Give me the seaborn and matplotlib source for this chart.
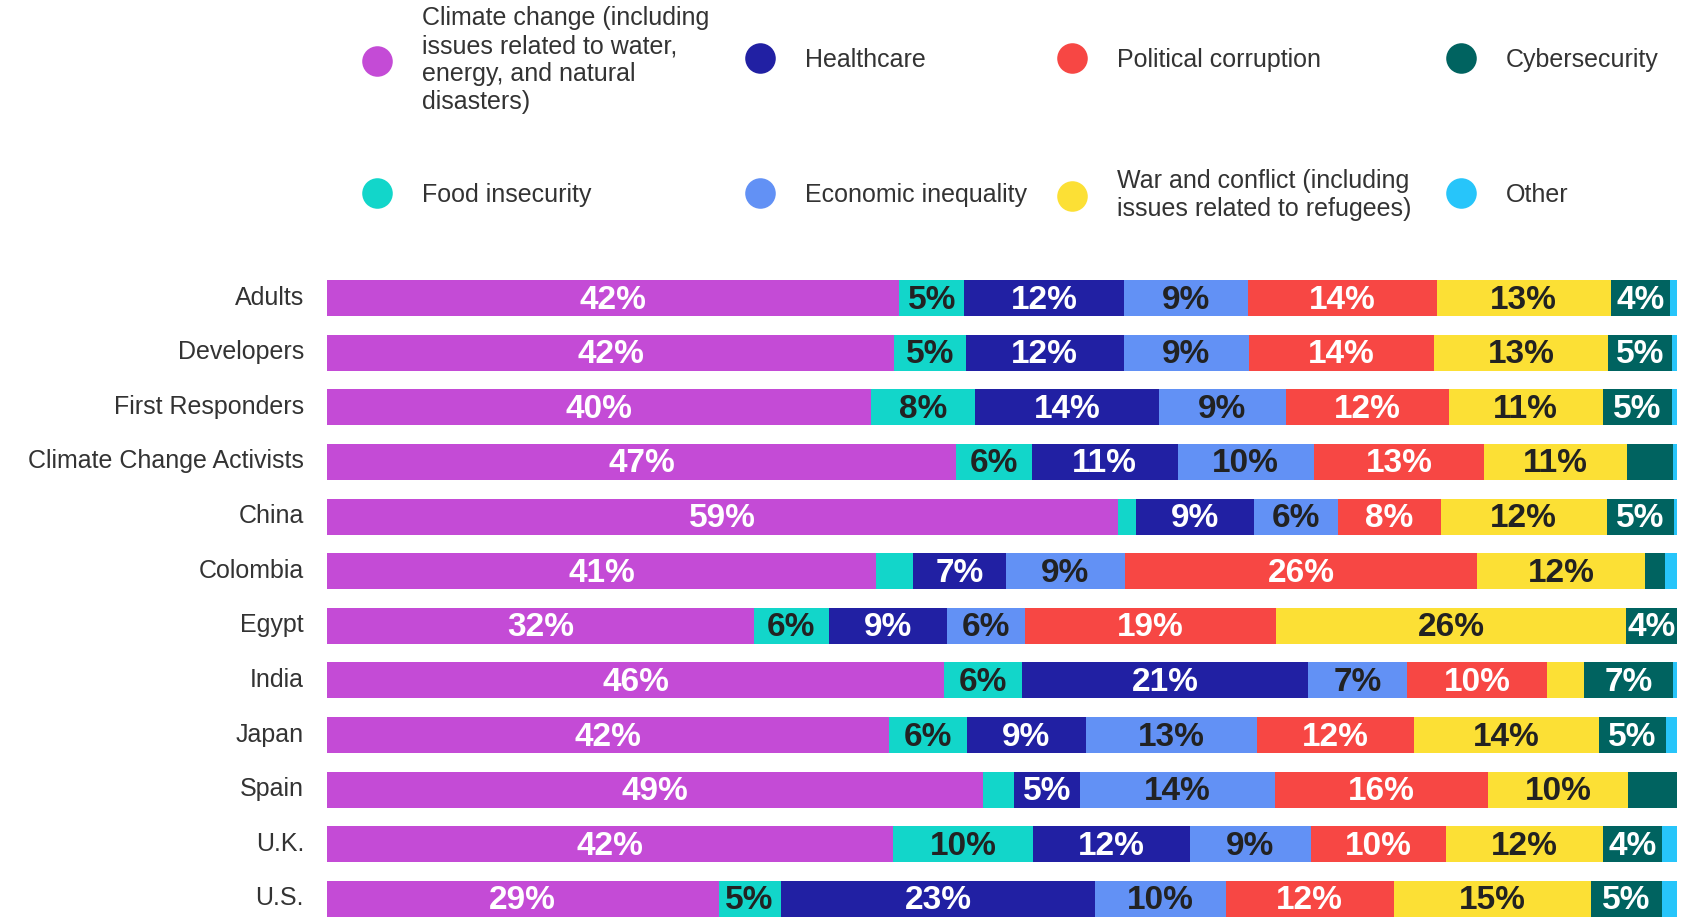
import seaborn as sns
import pandas as pd
from matplotlib import pyplot as plt
from matplotlib.lines import Line2D
from matplotlib.transforms import ScaledTranslation

groups = ["Adults", "Developers", "First Responders", "Climate Change Activists",
          "China", "Colombia", "Egypt", "India", "Japan", "Spain", "U.K.", "U.S."]

# share of each group (percent)
climate = [42.4, 42.0, 40.3, 46.6, 58.6, 40.7, 31.6, 45.7, 41.6, 48.6, 41.9, 29.0]
food = [4.8, 5.3, 7.7, 5.6, 1.3, 2.7, 5.6, 5.8, 5.8, 2.3, 10.4, 4.6]
health = [11.8, 11.7, 13.6, 10.8, 8.8, 6.9, 8.7, 21.2, 8.8, 4.9, 11.6, 23.3]
econ = [9.2, 9.3, 9.4, 10.1, 6.2, 8.8, 5.8, 7.3, 12.7, 14.4, 9.0, 9.7]
politics = [14.0, 13.7, 12.1, 12.6, 7.6, 26.1, 18.6, 10.4, 11.6, 15.8, 10.0, 12.4]
war = [12.9, 12.9, 11.4, 10.6, 12.3, 12.4, 25.9, 2.7, 13.7, 10.4, 11.6, 14.6]
cyber = [4.4, 4.7, 5.1, 3.4, 5.0, 1.5, 3.8, 6.6, 5.0, 3.6, 4.4, 5.3]
other = [0.5, 0.4, 0.4, 0.3, 0.2, 0.9, 0.0, 0.3, 0.8, 0.0, 1.1, 1.1]

keys = ["climate", "food", "health", "econ", "politics", "war", "cyber", "other"]
legend_labels = {
    "climate": "Climate change (including\nissues related to water,\nenergy, and natural\ndisasters)",
    "food": "Food insecurity",
    "health": "Healthcare",
    "econ": "Economic inequality",
    "politics": "Political corruption",
    "war": "War and conflict (including\nissues related to refugees)",
    "cyber": "Cybersecurity",
    "other": "Other",
}
colors = {"climate": "#C44BD6", "food": "#12D6CA", "health": "#2120A3", "econ": "#6291F5",
          "politics": "#F74744", "war": "#FCE035", "cyber": "#006360", "other": "#27C5FA"}
label_colors = {"climate": "white", "food": "#222222", "health": "white", "econ": "#222222",
                "politics": "white", "war": "#222222", "cyber": "white", "other": "#222222"}

sns.set_style("white")
plt.rcParams['font.family'] = ['Liberation Sans', 'DejaVu Sans']

df = pd.DataFrame({"climate": climate, "food": food, "health": health, "econ": econ,
                   "politics": politics, "war": war, "cyber": cyber, "other": other},
                  index=groups)
cum = df.cumsum(axis=1)
cum_long = cum.reset_index(names="group")

W, H = 1696, 917
fig = plt.figure(figsize=(W / 100, H / 100), dpi=100)
ax = fig.add_axes([327 / W, 0, (1677 - 327) / W, (917 - 280) / H])

# stacked look: draw running totals, longest first
for k in reversed(keys):
    sns.barplot(data=cum_long, x=k, y="group", order=groups, orient="h",
                color=colors[k], saturation=1, width=0.66, linewidth=0, ax=ax)

nudge_down = ScaledTranslation(0, -2 / 100, fig.dpi_scale_trans)
for i, g in enumerate(groups):
    for k in keys:
        v = df.loc[g, k]
        if v >= 3.7:
            ax.text(cum.loc[g, k] - v / 2, i, f"{round(v)}%", ha="center",
                    va="center", color=label_colors[k], fontsize=24,
                    fontweight="bold", transform=ax.transData + nudge_down)

ax.set_xlim(0, 100)
ax.set_ylim(len(groups) - 1 + 0.33, -0.33)
ax.set_xticks([])
ax.set_xlabel("")
ax.set_ylabel("")
ax.tick_params(axis="y", length=0, pad=16.5, labelsize=18, labelcolor="#333333")
nudge_up = ScaledTranslation(0, 3 / 100, fig.dpi_scale_trans)
for lbl in ax.get_yticklabels():
    lbl.set_transform(lbl.get_transform() + nudge_up)
sns.despine(ax=ax, left=True, bottom=True)

# legend laid out as two rows of four, markers lined up in columns
legend_cols = [377, 760, 1072, 1461]
legend_rows = [60, 195]
legend_grid = [["climate", "health", "politics", "cyber"],
               ["food", "econ", "war", "other"]]
for r, row in enumerate(legend_grid):
    for c, k in enumerate(row):
        h = Line2D([], [], marker="o", linestyle="", markersize=22,
                   markerfacecolor=colors[k], markeredgewidth=0)
        fig.legend(handles=[h], labels=[legend_labels[k]], loc="center left",
                   bbox_to_anchor=((legend_cols[c] - 12.5) / W, 1 - legend_rows[r] / H),
                   frameon=False, fontsize=18, handlelength=1.0,
                   handletextpad=1.3, borderpad=0, borderaxespad=0,
                   labelcolor="#333333")

fig.savefig("out.png", dpi=100)
